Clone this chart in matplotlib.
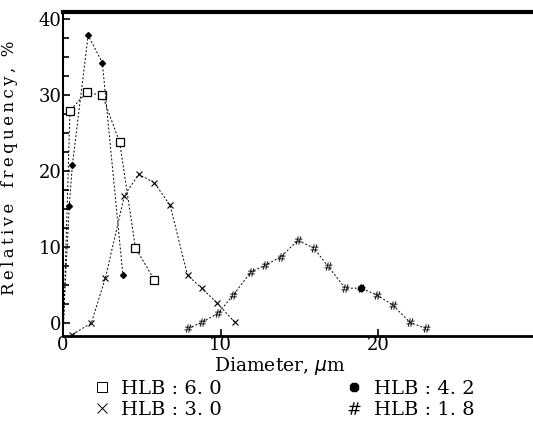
import matplotlib.pyplot as plt
from matplotlib.lines import Line2D
from matplotlib.ticker import MultipleLocator

plt.rcParams["font.family"] = ["DejaVu Serif"]

# HLB 6.0 (open squares)
x_hlb60 = [0.05, 0.45, 1.5, 2.5, 3.6, 4.6, 5.8]
y_hlb60 = [0.0, 28.0, 30.4, 30.0, 23.8, 9.9, 5.7]

# HLB 4.2 (filled)
x_hlb42 = [0.05, 0.4, 0.6, 1.6, 2.5, 3.8]
y_hlb42 = [1.0, 15.4, 20.8, 37.9, 34.3, 6.4]

# HLB 3.0 (crosses)
x_hlb30 = [0.6, 1.8, 2.7, 3.9, 4.8, 5.8, 6.8, 7.9, 8.8, 9.8, 10.9]
y_hlb30 = [-1.5, 0.0, 6.0, 16.8, 19.6, 18.5, 15.5, 6.3, 4.6, 2.6, 0.1]

# HLB 1.8 (sharps)
x_hlb18 = [7.95, 8.8, 9.85, 10.8, 11.9, 12.8, 13.8, 14.9, 15.9, 16.8, 17.9, 18.9, 19.9, 20.9, 22.0, 23.0]
y_hlb18 = [-0.7, 0.1, 1.3, 3.7, 6.7, 7.6, 8.7, 10.9, 9.9, 7.5, 4.6, 4.6, 3.7, 2.4, 0.1, -0.7]

# stray filled dot sitting on the HLB 1.8 curve
x_dot = [18.9]
y_dot = [4.6]

fig = plt.figure(figsize=(5.33, 4.24), dpi=100)
ax = fig.add_axes([0.118, 0.2075, 0.882, 0.7645])

ls = dict(color="black", linestyle=(0, (2, 2)), linewidth=0.7)
ax.plot(x_hlb60, y_hlb60, marker="s", mfc="white", mec="black", ms=6, mew=0.9, markevery=list(range(1, len(x_hlb60))), **ls)
ax.plot(x_hlb42, y_hlb42, marker="D", mfc="black", mec="black", ms=3, markevery=list(range(1, len(x_hlb42))), **ls)
ax.plot(x_hlb30, y_hlb30, marker="x", mec="black", ms=5, mew=0.8, **ls)
ax.plot(x_hlb18, y_hlb18, marker="$\\#$", mec="black", mfc="black", ms=6, mew=0, **ls)
ax.plot(x_dot, y_dot, marker="8", color="black", ms=4.5, linestyle="none")

ax.set_xlim(0, 29.8)
ax.set_ylim(-1.7, 41.0)
ax.set_xticks([0, 10, 20])
ax.set_yticks([0, 10, 20, 30, 40])
ax.yaxis.set_minor_locator(MultipleLocator(2.5))
ax.tick_params(direction="in", labelsize=13, pad=1, length=5, width=1.2)
ax.tick_params(axis="x", pad=0)
ax.tick_params(which="minor", direction="in", length=4, width=1.2)
ax.spines["right"].set_visible(False)
ax.spines["top"].set_linewidth(3)
ax.spines["bottom"].set_linewidth(2)
ax.spines["left"].set_linewidth(1.5)

ax.set_xlabel("Diameter, $\\mu$m", fontsize=13.5)
ax.xaxis.set_label_coords(0.462, -0.058)
ylab = "\u2009".join("Relative") + "   " + "\u2009".join("frequency,") + "  %"
ax.set_ylabel(ylab, fontsize=12)
ax.yaxis.set_label_coords(-0.095, 0.52)

handles = [
    Line2D([], [], marker="s", mfc="white", mec="black", ms=7, mew=0.7, linestyle="none"),
    Line2D([], [], marker="x", mec="black", ms=7, mew=0.7, linestyle="none"),
    Line2D([], [], marker="8", color="black", ms=7, linestyle="none"),
    Line2D([], [], marker="$\\#$", color="black", ms=9, mew=0, linestyle="none"),
]
labels = ["HLB : 6. 0", "HLB : 3. 0", "HLB : 4. 2", "HLB : 1. 8"]
fig.legend(handles, labels, ncol=2, loc="lower left", bbox_to_anchor=(0.14, -0.03),
           frameon=False, fontsize=14, handletextpad=0.5, columnspacing=6.3,
           labelspacing=0.15, handlelength=1.0)

fig.savefig("out.png", dpi=100)
